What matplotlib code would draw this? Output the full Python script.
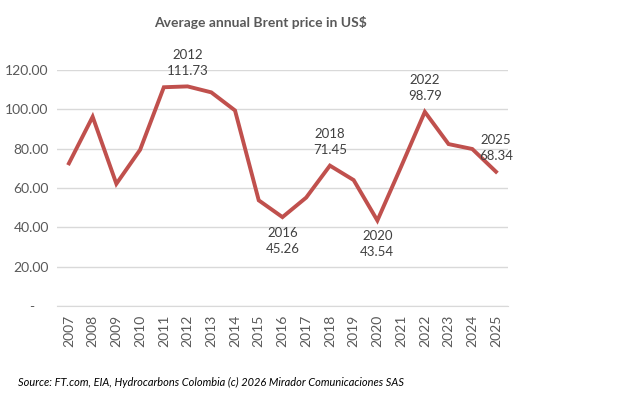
import matplotlib.pyplot as plt

years = list(range(2007, 2026))
prices = [72.6, 96.3, 62.2, 79.5, 111.3, 111.73, 108.7, 99.5, 53.8, 45.26,
          55.2, 71.45, 64.1, 43.54, 70.9, 98.79, 82.4, 79.9, 68.34]

# labelled points: year -> above(1) / below(-1)
labels = {2012: 1, 2016: -1, 2018: 1, 2020: -1, 2022: 1, 2025: 1}

plt.rcParams['font.family'] = ['Lato', 'DejaVu Sans']
grey = "#595959"

fig = plt.figure(figsize=(6.27, 3.94), dpi=100)
ax = fig.add_axes([0.091, 0.223, 0.719, 0.599])

x = list(range(len(years)))
ax.plot(x, prices, color="#C0504D", linewidth=2.8, solid_joinstyle="miter")

ax.set_ylim(0, 120)
ax.set_xlim(-0.5, len(years) - 0.5)
ax.set_yticks([0, 20, 40, 60, 80, 100, 120])
ax.set_yticklabels(["-    ", "20.00", "40.00", "60.00", "80.00", "100.00", "120.00"])
ax.set_xticks(x)
ax.set_xticklabels([str(y) for y in years], rotation=90)
ax.tick_params(length=0, labelsize=10, colors=grey, pad=6)

ax.grid(axis="y", color="#D9D9D9", linewidth=1)
ax.set_axisbelow(True)
for s in ["top", "right", "left"]:
    ax.spines[s].set_visible(False)
ax.spines["bottom"].set_color("#D9D9D9")

for yr, pos in labels.items():
    i = years.index(yr)
    v = prices[i]
    ax.annotate(f"{yr}\n{v:.2f}", (i, v), xytext=(0, 7 * pos),
                textcoords="offset points", ha="center",
                va="bottom" if pos > 0 else "top",
                fontsize=9.5, color="#404040", linespacing=1.4,
                annotation_clip=False)

fig.text(0.416, 0.942, "Average annual Brent price in US$", ha="center",
         va="center", fontsize=10, fontweight="bold", color=grey)
fig.text(0.029, 0.03, "Source: FT.com, EIA, Hydrocarbons Colombia (c) 2026 Mirador Comunicaciones SAS",
         ha="left", va="center", fontsize=7.9, style="italic", color="#000000")

fig.savefig("out.png", dpi=100)
